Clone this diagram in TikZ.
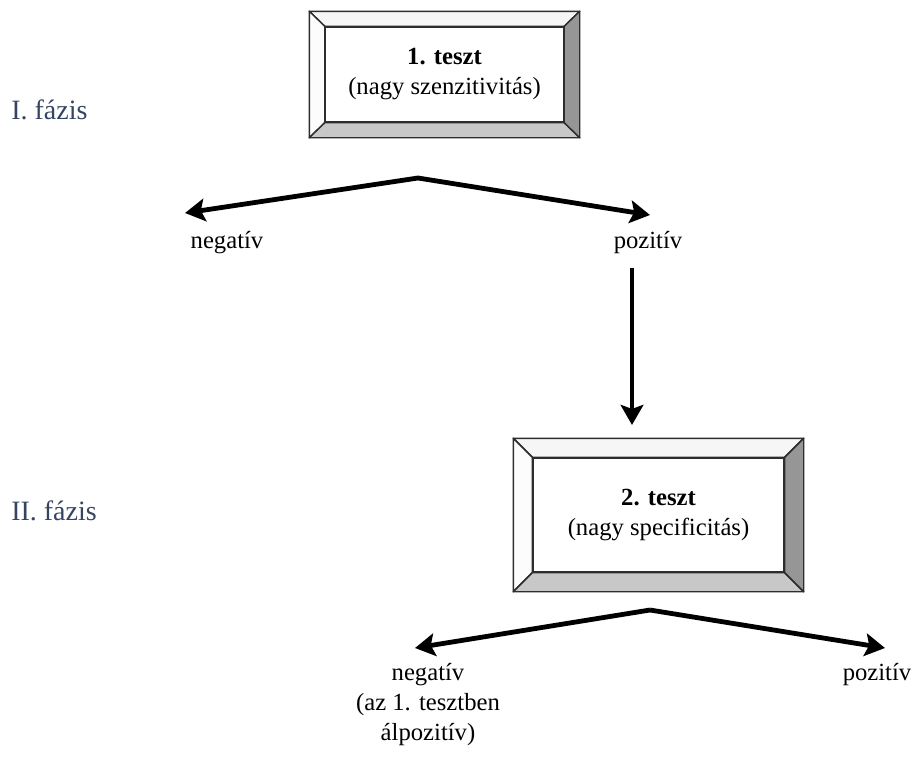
\documentclass[tikz,border=0pt]{standalone}
\usepackage{fontspec}
\setmainfont{Liberation Serif}
\usepackage{tikz}
\usetikzlibrary{arrows.meta}

\definecolor{phasecol}{RGB}{52,68,98}
\definecolor{bevtop}{RGB}{246,246,246}
\definecolor{bevleft}{RGB}{252,252,252}
\definecolor{bevbot}{RGB}{200,200,200}
\definecolor{bevright}{RGB}{150,150,150}
\definecolor{bevline}{RGB}{45,45,45}

\tikzset{
  lbl/.style={inner sep=0pt, font=\fontsize{18.5}{22.5}\selectfont},
  phase/.style={inner sep=0pt, text=phasecol, font=\fontsize{21}{25}\selectfont},
  outerbox/.style={draw=bevline, line width=1.1pt, inner sep=0pt},
  innerbox/.style={draw=bevline, line width=1.1pt, fill=white, inner sep=0pt,
                   align=center, font=\fontsize{18.5}{22.5}\selectfont},
  bev/.style={draw=bevline, line width=1.1pt, line join=round},
  arr/.style={-{Stealth[length=15pt,width=17pt,inset=3pt]}, line width=3.6pt},
  arrtwo/.style={{Stealth[length=15pt,width=17pt,inset=3pt]}-{Stealth[length=15pt,width=17pt,inset=3pt]},
                 line width=3.6pt}
}

\begin{document}
\begin{tikzpicture}[x=0.75pt,y=-0.75pt]
\useasboundingbox (0,0) rectangle (917,765);

% phases
\node[phase, anchor=west] (ph1) at (11,110) {I. fázis};
\node[phase, anchor=west] (ph2) at (11,511) {II. fázis};

% test boxes
\node[outerbox, minimum width=201.75pt, minimum height=93.75pt] (t1) at (444.5,74.5) {};
\node[innerbox, minimum width=178.5pt, minimum height=71.25pt] (t1-in) at (444.5,74.5)
  {\textbf{1. teszt}\\(nagy szenzitivitás)};
\node[outerbox, minimum width=216.75pt, minimum height=114pt] (t2) at (658.5,515) {};
\node[innerbox, minimum width=188.25pt, minimum height=85.5pt] (t2-in) at (658.5,515)
  {\textbf{2. teszt}\\(nagy specificitás)};

\foreach \b in {t1,t2}{
  \filldraw[bev, fill=bevtop] (\b.north west) -- (\b.north east) -- (\b-in.north east) -- (\b-in.north west) -- cycle;
  \filldraw[bev, fill=bevleft] (\b.north west) -- (\b-in.north west) -- (\b-in.south west) -- (\b.south west) -- cycle;
  \filldraw[bev, fill=bevbot] (\b.south west) -- (\b-in.south west) -- (\b-in.south east) -- (\b.south east) -- cycle;
  \filldraw[bev, fill=bevright] (\b.north east) -- (\b.south east) -- (\b-in.south east) -- (\b-in.north east) -- cycle;
}

% results
\node[lbl] (neg1) at (227,243) {negatív};
\node[lbl] (pos1) at (648,243) {pozitív};
\node[lbl, align=center] (neg2) at (428,705) {negatív\\(az 1. tesztben\\álpozitív)};
\node[lbl] (pos2) at (877,675) {pozitív};

% arrows
\coordinate (s1) at (418,178);
\coordinate (s1l) at (185,213);
\coordinate (s1r) at (650,215);
\draw[arrtwo] (s1l) -- (s1) -- (s1r);

\coordinate (v1) at (632,268);
\draw[arr, shorten >=10pt] (v1) -- (v1 |- t2.north);

\coordinate (s2) at (650,610);
\coordinate (s2l) at (415,648);
\coordinate (s2r) at (885,648);
\draw[arr] (s2) -- (s2l);
\draw[arr] (s2) -- (s2r);
\end{tikzpicture}
\end{document}
